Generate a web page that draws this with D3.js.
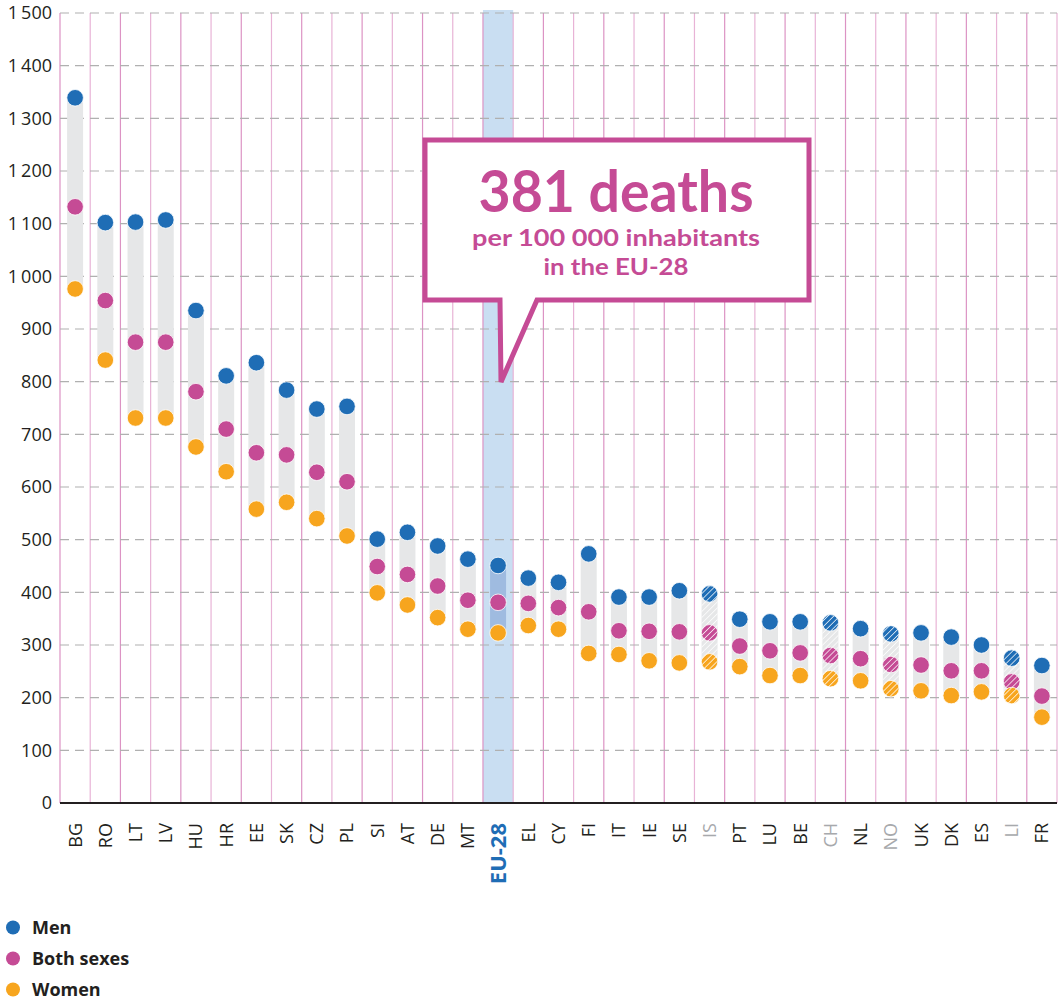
<!DOCTYPE html>
<html>
<head>
<meta charset="utf-8">
<script src="https://cdn.jsdelivr.net/npm/d3@7"></script>
<style>
  html, body { margin: 0; padding: 0; background: #ffffff; }
  svg { display: block; }
</style>
</head>
<body>
<svg id="chart" width="1060" height="1000"></svg>
<script>
// ---- Data ----
const categories = ["BG","RO","LT","LV","HU","HR","EE","SK","CZ","PL","SI","AT","DE","MT","EU-28","EL","CY","FI","IT","IE","SE","IS","PT","LU","BE","CH","NL","NO","UK","DK","ES","LI","FR"];
const men   = [1339,1102,1103,1107,935,811,836,784,748,753,501,514,488,463,451,427,419,473,391,391,403,397,349,344,344,342,331,321,323,315,300,275,261];
const both  = [1132,954,875,875,781,710,665,661,628,610,449,434,412,385,381,379,371,363,327,326,325,323,298,289,285,280,274,263,262,251,251,230,203];
const women = [976,841,731,731,676,629,558,571,540,507,399,376,352,330,323,337,330,284,282,270,266,268,259,242,242,236,232,217,213,204,211,204,163];
const nonEU = ["IS","CH","NO","LI"];
const highlight = "EU-28";
const yTicks = [0,100,200,300,400,500,600,700,800,900,1000,1100,1200,1300,1400,1500];
const seriesNames = ["Men","Both sexes","Women"];
const calloutLines = ["381 deaths","per 100 000 inhabitants","in the EU-28"];

(function () {
// ---- Styles ----
const colors = { "Men": "#1f6db5", "Both sexes": "#c54b95", "Women": "#f7a51e" };
const FONT = "'Open Sans', 'Noto Sans', sans-serif";
const CFONT = "Lato, 'Open Sans', sans-serif";

const svg = d3.select("#chart");
const pLeft = 60, pRight = 1057, pTop = 13, pBottom = 803;

const x = d3.scaleBand().domain(categories).range([pLeft, pRight]).padding(0);
const y = d3.scaleLinear().domain([0, 1500]).range([pBottom, pTop]);

const defs = svg.append("defs");
const pat = defs.append("pattern")
  .attr("id", "hatch").attr("patternUnits", "userSpaceOnUse")
  .attr("width", 4.2).attr("height", 4.2)
  .attr("patternTransform", "rotate(45)");
pat.append("line").attr("x1", 0).attr("y1", 0).attr("x2", 0).attr("y2", 4.2)
  .attr("stroke", "#ffffff").attr("stroke-width", 1.4);

svg.append("rect").attr("width", 1060).attr("height", 1000).attr("fill", "#ffffff");

// EU-28 highlight band
svg.append("rect")
  .attr("x", x(highlight)).attr("y", 10)
  .attr("width", x.bandwidth()).attr("height", pBottom - 10)
  .attr("fill", "#c9def2");

// vertical pink lines
const vx = categories.map(c => x(c)).concat([pRight]);
svg.append("g").selectAll("line").data(vx).join("line")
  .attr("x1", d => d).attr("x2", d => d)
  .attr("y1", pTop).attr("y2", pBottom)
  .attr("stroke", (d, i) => i % 2 ? "#e8b3d6" : "#dc93c4")
  .attr("stroke-width", 1.2);

// horizontal dashed grid
svg.append("g").selectAll("line").data(yTicks.filter(d => d > 0)).join("line")
  .attr("x1", pLeft).attr("x2", pRight)
  .attr("y1", d => y(d)).attr("y2", d => y(d))
  .attr("stroke", "#b0b0b0").attr("stroke-width", 1.2)
  .attr("stroke-dasharray", "9,6");

// y axis labels
const fmt = v => v >= 1000 ? Math.floor(v / 1000) + "\u2009" + String(v % 1000).padStart(3, "0") : String(v);
svg.append("g").selectAll("text").data(yTicks).join("text")
  .attr("x", 52).attr("y", d => y(d))
  .attr("dy", "0.35em")
  .attr("text-anchor", "end")
  .attr("font-family", FONT).attr("font-size", 18)
  .attr("fill", "#231f20")
  .text(fmt);

// range bars
const rows = categories.map((c, i) => ({ c, men: men[i], both: both[i], women: women[i], hatched: nonEU.includes(c) }));
const bw = 16;
const bars = svg.append("g");
bars.selectAll("rect.bar").data(rows).join("rect")
  .attr("class", "bar")
  .attr("x", d => x(d.c) + x.bandwidth() / 2 - bw / 2)
  .attr("y", d => y(d.men))
  .attr("width", bw)
  .attr("height", d => y(d.women) - y(d.men))
  .attr("fill", d => d.c === highlight ? "#9fbbe0" : "#e6e7e8");
bars.selectAll("rect.hb").data(rows.filter(d => d.hatched)).join("rect")
  .attr("class", "hb")
  .attr("x", d => x(d.c) + x.bandwidth() / 2 - bw / 2)
  .attr("y", d => y(d.men))
  .attr("width", bw)
  .attr("height", d => y(d.women) - y(d.men))
  .attr("fill", "url(#hatch)");

// dots
const keys = [["Men", "men"], ["Both sexes", "both"], ["Women", "women"]];
keys.forEach(([name, k]) => {
  const g = svg.append("g");
  g.selectAll("circle.d").data(rows).join("circle")
    .attr("class", "d")
    .attr("cx", d => x(d.c) + x.bandwidth() / 2)
    .attr("cy", d => y(d[k]))
    .attr("r", 8.3)
    .attr("fill", colors[name])
    .attr("stroke", "#ffffff").attr("stroke-width", 0.8);
  g.selectAll("circle.h").data(rows.filter(d => d.hatched)).join("circle")
    .attr("class", "h")
    .attr("cx", d => x(d.c) + x.bandwidth() / 2)
    .attr("cy", d => y(d[k]))
    .attr("r", 8.3)
    .attr("fill", "url(#hatch)");
});

// x axis line
svg.append("line").attr("x1", pLeft).attr("x2", pRight)
  .attr("y1", pBottom).attr("y2", pBottom)
  .attr("stroke", "#231f20").attr("stroke-width", 2);

// x labels
svg.append("g").selectAll("text").data(categories).join("text")
  .attr("transform", d => `translate(${x(d) + x.bandwidth() / 2},${823}) rotate(-90)`)
  .attr("dy", "0.36em")
  .attr("text-anchor", "end")
  .attr("font-family", FONT)
  .attr("font-size", d => d === highlight ? 22 : 18)
  .attr("font-weight", d => d === highlight ? 700 : 400)
  .attr("fill", d => d === highlight ? "#1f6db5" : (nonEU.includes(d) ? "#a7a9ac" : "#231f20"))
  .text(d => d);

// callout
const pink = "#c54b95";
const path = d3.path();
path.moveTo(425, 140); path.lineTo(809, 140); path.lineTo(809, 300);
path.lineTo(537, 300); path.lineTo(501, 382); path.lineTo(500, 300);
path.lineTo(425, 300); path.closePath();
svg.append("path").attr("d", path.toString())
  .attr("fill", "#ffffff").attr("stroke", pink).attr("stroke-width", 5)
  .attr("stroke-linejoin", "miter");
const cl = [
  { t: calloutLines[0], yb: 212, fs: 57, w: 275 },
  { t: calloutLines[1], yb: 246, fs: 22, w: 288 },
  { t: calloutLines[2], yb: 275, fs: 22, w: 145 }
];
svg.append("g").selectAll("text").data(cl).join("text")
  .attr("x", 616).attr("y", d => d.yb)
  .attr("text-anchor", "middle")
  .attr("font-family", CFONT).attr("font-weight", 700)
  .attr("font-size", d => d.fs)
  .attr("textLength", d => d.w).attr("lengthAdjust", "spacingAndGlyphs")
  .attr("fill", pink)
  .text(d => d.t);

// legend
const lg = svg.append("g").selectAll("g").data(seriesNames).join("g")
  .attr("transform", (d, i) => `translate(0,${927.5 + i * 31})`);
lg.append("circle").attr("cx", 13).attr("cy", 0).attr("r", 7).attr("fill", d => colors[d]);
lg.append("text").attr("x", 32).attr("y", 0).attr("dy", "0.36em")
  .attr("font-family", FONT).attr("font-weight", 700).attr("font-size", 18)
  .attr("fill", "#231f20").text(d => d);
})();
</script>
</body>
</html>
